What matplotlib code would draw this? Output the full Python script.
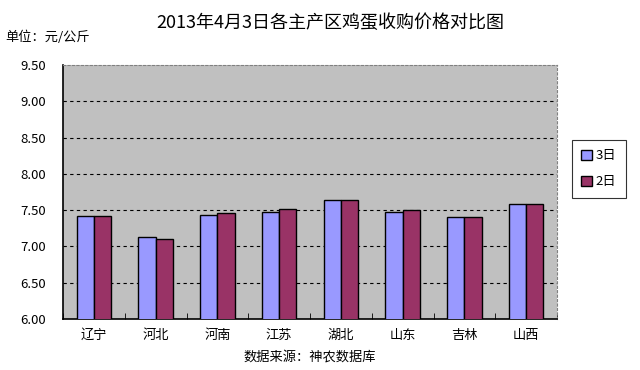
import matplotlib
matplotlib.use("Agg")
import matplotlib.pyplot as plt
import numpy as np

plt.rcParams['font.family'] = ['Noto Sans CJK SC', 'DejaVu Sans']

categories = ["辽宁", "河北", "河南", "江苏", "湖北", "山东", "吉林", "山西"]
day3 = [7.42, 7.13, 7.43, 7.47, 7.64, 7.47, 7.40, 7.58]
day2 = [7.42, 7.10, 7.46, 7.51, 7.64, 7.50, 7.40, 7.58]
yticks = [6.00, 6.50, 7.00, 7.50, 8.00, 8.50, 9.00, 9.50]

fig = plt.figure(figsize=(6.4, 3.7), dpi=100)
ax = fig.add_axes([63/640, 1-319/370, 494/640, 254/370])
ax.set_facecolor("#C0C0C0")

x = np.arange(len(categories))
w = 0.28
ax.bar(x - w/2, day3, w, color="#9999FF", edgecolor="black", linewidth=1.0, label="3日", zorder=3)
ax.bar(x + w/2, day2, w, color="#993366", edgecolor="black", linewidth=1.0, label="2日", zorder=3)

ax.set_ylim(6.0, 9.5)
ax.set_xlim(-0.5, len(categories) - 0.5)
ax.set_yticks(yticks)
ax.set_yticklabels([f"{v:.2f}" for v in yticks], fontsize=9.5)
for v in yticks[1:-1]:
    ax.axhline(v, color="black", linestyle=(0, (3, 3)), linewidth=0.8, zorder=1)
ax.set_xticks(x)
ax.set_xticklabels(categories, fontsize=9.5)
ax.set_xticks(np.arange(len(categories)+1) - 0.5, minor=True)
ax.tick_params(axis='x', which='major', length=0, pad=7)
ax.tick_params(axis='x', which='minor', length=4, direction='in')
ax.tick_params(axis='y', length=0, pad=12)

for s in ['top', 'right']:
    ax.spines[s].set_color("#808080")
    ax.spines[s].set_linestyle((0, (2, 2)))
for s in ['left', 'bottom']:
    ax.spines[s].set_color("black")
    ax.spines[s].set_linewidth(1.2)

leg = fig.legend(loc='upper left', bbox_to_anchor=(572/640, 1-140/370), fontsize=9.5,
                 frameon=True, fancybox=False, edgecolor="black",
                 handlelength=0.8, handleheight=0.8, handletextpad=0.3,
                 labelspacing=1.0, borderpad=0.7, borderaxespad=0)
leg.get_frame().set_linewidth(0.8)

fig.text(330/640, 1-23/370, "2013年4月3日各主产区鸡蛋收购价格对比图", ha='center', va='center', fontsize=13)
fig.text(5/640, 1-37/370, "单位：元/公斤", ha='left', va='center', fontsize=9.5)
fig.text(310/640, 1-357/370, "数据来源：神农数据库", ha='center', va='center', fontsize=9.5)

fig.savefig("out.png", dpi=100)
